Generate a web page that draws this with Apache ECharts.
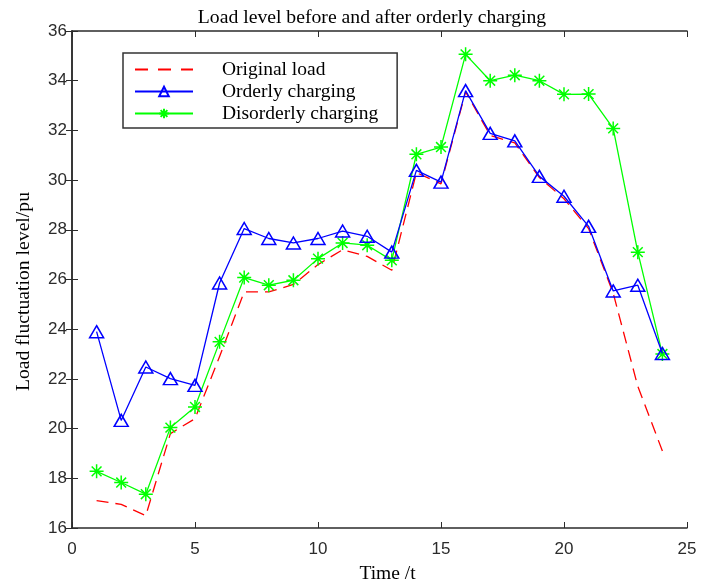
<!DOCTYPE html>
<html>
<head>
<meta charset="utf-8">
<script src="https://cdn.jsdelivr.net/npm/echarts@6/dist/echarts.min.js"></script>
<style>
  html, body { margin: 0; padding: 0; background: #fff; }
  #chart { width: 703px; height: 583px; }
</style>
</head>
<body>
<div id="chart"></div>
<script>
// ── Data ─────────────────────────────────────────────────────────────────────
const hours = [1, 2, 3, 4, 5, 6, 7, 8, 9, 10, 11, 12, 13, 14, 15, 16, 17, 18, 19, 20, 21, 22, 23, 24];
const originalLoad = [17.1, 16.95, 16.5, 19.8, 20.4, 22.9, 25.5, 25.5, 25.8, 26.6, 27.2, 26.93, 26.37,
  30.3, 29.85, 33.55, 31.8, 31.5, 30.1, 29.25, 28.05, 25.45, 21.7, 19.1];
const orderlyCharging = [23.9, 20.33, 22.48, 22.01, 21.74, 25.86, 28.05, 27.65, 27.47, 27.65, 27.95, 27.74, 27.1,
  30.39, 29.92, 33.6, 31.88, 31.58, 30.15, 29.35, 28.14, 25.54, 25.77, 23.02];
const disorderlyCharging = [18.28, 17.83, 17.36, 20.04, 20.87, 23.49, 26.08, 25.77, 25.97, 26.84, 27.47, 27.38, 26.77,
  31.04, 31.33, 35.06, 34.0, 34.22, 34.0, 33.45, 33.46, 32.08, 27.1, 23.0];

const SERIF = '"Liberation Serif", "Times New Roman", serif';
const SANS = '"Liberation Sans", Arial, sans-serif';
const AXIS = '#2b2b2b';
const STAR = 'path://M0,-1L0,1M-1,0L1,0M-0.7,-0.7L0.7,0.7M-0.7,0.7L0.7,-0.7';

const pairs = ys => hours.map((h, i) => [h, ys[i]]);

// mirrored axes for the box with inward ticks
function boxAxis(pos, isX) {
  return {
    type: 'value', position: pos, min: isX ? 0 : 16, max: isX ? 25 : 36, interval: isX ? 5 : 2,
    axisLine: { show: true, lineStyle: { color: AXIS, width: 1.5 } },
    axisTick: { show: true, inside: true, length: 6, lineStyle: { color: AXIS } },
    axisLabel: { show: false },
    splitLine: { show: false },
  };
}

const chart = echarts.init(document.getElementById('chart'), null, { renderer: 'canvas' });
chart.setOption({
  animation: false,
  backgroundColor: '#fff',
  title: {
    text: 'Load level before and after orderly charging',
    left: 367, top: 3, textAlign: 'center',
    textStyle: { fontFamily: SERIF, fontSize: 19.7, fontWeight: 'normal', color: '#000' },
  },
  grid: { left: 72, right: 16, top: 31, bottom: 55, outerBoundsMode: 'none', containLabel: false },
  legend: {
    orient: 'vertical', left: 123, top: 53,
    padding: [6, 19, 4, 11],
    itemWidth: 58, itemHeight: 12, itemGap: 1,
    borderColor: '#333', borderWidth: 1.5, backgroundColor: '#fff',
    textStyle: { fontFamily: SERIF, fontSize: 19.5, color: '#000', lineHeight: 21, padding: [0, 0, 0, 24] },
    data: [
      { name: 'Original load', itemStyle: { opacity: 0 }, lineStyle: { type: [13, 10] } },
      'Orderly charging',
      'Disorderly charging',
    ],
  },
  xAxis: [
    {
      type: 'value', min: 0, max: 25, interval: 5,
      name: 'Time /t', nameLocation: 'middle', nameGap: 36,
      nameTextStyle: { fontFamily: SERIF, fontSize: 19.5, color: '#000', padding: [0, 0, 0, 16] },
      axisLine: { show: true, lineStyle: { color: AXIS, width: 1.5 } },
      axisTick: { show: true, inside: true, length: 6, lineStyle: { color: AXIS } },
      axisLabel: { fontFamily: SANS, fontSize: 17, color: AXIS, margin: 13 },
      splitLine: { show: false },
    },
    boxAxis('top', true),
  ],
  yAxis: [
    {
      type: 'value', min: 16, max: 36, interval: 2,
      name: 'Load fluctuation level/pu', nameLocation: 'middle', nameGap: 38,
      nameTextStyle: { fontFamily: SERIF, fontSize: 19.7, color: '#000', padding: [0, 24, 0, 0] },
      axisLine: { show: true, lineStyle: { color: AXIS, width: 1.5 } },
      axisTick: { show: true, inside: true, length: 6, lineStyle: { color: AXIS } },
      axisLabel: { fontFamily: SANS, fontSize: 17, color: AXIS, margin: 5 },
      splitLine: { show: false },
    },
    boxAxis('right', false),
  ],
  series: [
    {
      name: 'Original load', type: 'line', data: pairs(originalLoad),
      symbol: 'none', z: 2,
      lineStyle: { color: '#ff0000', width: 1.3, type: [12, 7] },
      itemStyle: { color: '#ff0000' },
    },
    {
      name: 'Orderly charging', type: 'line', data: pairs(orderlyCharging),
      symbol: 'triangle', symbolSize: [14, 12], z: 3,
      lineStyle: { color: '#0000ff', width: 1.3 },
      itemStyle: { color: 'rgba(0,0,0,0)', borderColor: '#0000ff', borderWidth: 1.5 },
    },
    {
      name: 'Disorderly charging', type: 'line', data: pairs(disorderlyCharging),
      symbol: STAR, symbolSize: 14, z: 2,
      lineStyle: { color: '#00ff00', width: 1.3 },
      itemStyle: { color: 'rgba(0,0,0,0)', borderColor: '#00ff00', borderWidth: 1.5 },
    },
  ],
});
</script>
</body>
</html>
